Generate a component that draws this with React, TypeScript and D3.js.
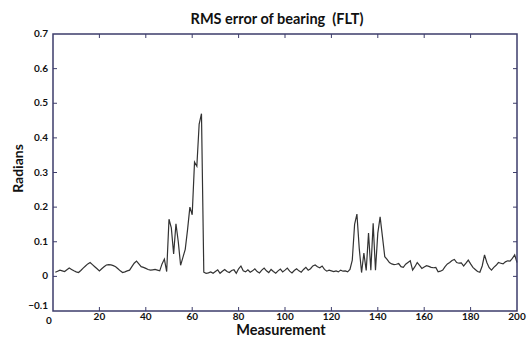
import * as d3 from 'd3';

// RMS bearing error (radians) for measurements 1..200
const rmsError = [
    0.012, 0.015, 0.018, 0.016, 0.014, 0.019, 0.024, 0.02, 0.016, 0.013,
    0.011, 0.017, 0.024, 0.03, 0.036, 0.04, 0.034, 0.028, 0.022, 0.016,
    0.022, 0.028, 0.033, 0.034, 0.033, 0.031, 0.028, 0.022, 0.016, 0.011,
    0.013, 0.016, 0.018, 0.028, 0.038, 0.044, 0.036, 0.028, 0.026, 0.023,
    0.02, 0.018, 0.019, 0.02, 0.018, 0.016, 0.036, 0.05, 0.014, 0.165,
    0.14, 0.065, 0.152, 0.1, 0.032, 0.055, 0.078, 0.135, 0.2, 0.178,
    0.33, 0.318, 0.44, 0.47, 0.012, 0.009, 0.01, 0.013, 0.009, 0.014,
    0.019, 0.009, 0.015, 0.02, 0.014, 0.011, 0.017, 0.019, 0.009, 0.022,
    0.03, 0.016, 0.013, 0.019, 0.012, 0.016, 0.022, 0.014, 0.01, 0.018,
    0.024, 0.016, 0.011, 0.02, 0.014, 0.009, 0.016, 0.021, 0.013, 0.018,
    0.024, 0.015, 0.01, 0.017, 0.022, 0.016, 0.012, 0.02, 0.026, 0.018,
    0.022, 0.03, 0.033, 0.028, 0.025, 0.03, 0.02, 0.015, 0.018, 0.016,
    0.014, 0.016, 0.013, 0.018, 0.015, 0.016, 0.013, 0.02, 0.047, 0.15,
    0.18, 0.081, 0.011, 0.067, 0.017, 0.125, 0.018, 0.153, 0.018, 0.125,
    0.172, 0.115, 0.057, 0.049, 0.04, 0.036, 0.034, 0.035, 0.037, 0.028,
    0.026, 0.035, 0.04, 0.045, 0.018, 0.028, 0.04, 0.032, 0.023, 0.027,
    0.031, 0.029, 0.026, 0.025, 0.026, 0.013, 0.015, 0.018, 0.028, 0.036,
    0.04, 0.046, 0.049, 0.04, 0.038, 0.039, 0.03, 0.038, 0.047, 0.036,
    0.026, 0.02, 0.014, 0.012, 0.03, 0.062, 0.04, 0.025, 0.018, 0.026,
    0.032, 0.04, 0.038, 0.036, 0.042, 0.045, 0.044, 0.052, 0.062, 0.04
];

const xTicks = [0, 20, 40, 60, 80, 100, 120, 140, 160, 180, 200];
const yTicks = [-0.1, 0, 0.1, 0.2, 0.3, 0.4, 0.5, 0.6, 0.7];

const title = 'RMS error of bearing  (FLT)';
const xLabel = 'Measurement';
const yLabel = 'Radians';

export default function App() {
    const width = 529;
    const height = 337;
    const margin = { top: 34, right: 12, bottom: 26, left: 53 };
    const innerWidth = width - margin.left - margin.right;
    const innerHeight = height - margin.top - margin.bottom;

    const x = d3.scaleLinear().domain([0, 200]).range([0, innerWidth]);
    const y = d3.scaleLinear().domain([-0.1, 0.7]).range([innerHeight, 0]);

    const line = d3.line<number>()
        .x((_, i) => x(i + 1))
        .y(d => y(d));

    const frame = '#3d3d6b';
    const font = 'Lato, "Open Sans", sans-serif';
    const tickLen = 4;

    return (
        <svg width={width} height={height}
            style={{ position: 'absolute', left: 0, top: 0, background: '#fff' }}
            fontFamily={font}>
            <text x={277} y={24} textAnchor="middle" fontSize={14.5} fontWeight={700} fill="#111"
                style={{ whiteSpace: 'pre' }}>
                {title}
            </text>
            <g transform={`translate(${margin.left},${margin.top})`}>
                <path d={line(rmsError) || ''} fill="none" stroke="#333" strokeWidth={1.2} />

                {/* ticks, mirrored on all four sides */}
                {xTicks.slice(1, -1).map(t => (
                    <g key={'xt' + t} stroke={frame} strokeWidth={1}>
                        <line x1={x(t)} x2={x(t)} y1={innerHeight} y2={innerHeight - tickLen} />
                        <line x1={x(t)} x2={x(t)} y1={0} y2={tickLen} />
                    </g>
                ))}
                {yTicks.slice(1, -1).map(t => (
                    <g key={'yt' + t} stroke={frame} strokeWidth={1}>
                        <line x1={0} x2={tickLen} y1={y(t)} y2={y(t)} />
                        <line x1={innerWidth} x2={innerWidth - tickLen} y1={y(t)} y2={y(t)} />
                    </g>
                ))}
                <rect x={0} y={0} width={innerWidth} height={innerHeight}
                    fill="none" stroke={frame} strokeWidth={1.5} />

                {xTicks.map(t => (
                    <text key={'xl' + t}
                        x={t === 0 ? x(t) - 4 : x(t)}
                        y={innerHeight + (t === 0 ? 13 : 9)}
                        textAnchor="middle" fontSize={10} fontWeight={700} fill="#111">
                        {t}
                    </text>
                ))}
                {yTicks.map(t => (
                    <text key={'yl' + t} x={-5}
                        y={t === -0.1 ? y(t) - 2 : y(t) + 3}
                        textAnchor="end" fontSize={10} fontWeight={700} fill="#111">
                        {d3.format('')(+t.toFixed(1))}
                    </text>
                ))}

                <text x={innerWidth / 2 - 4} y={innerHeight + 24}
                    textAnchor="middle" fontSize={14.5} fontWeight={700} fill="#111">
                    {xLabel}
                </text>
                <text transform={`translate(${-30},${innerHeight / 2 - 4}) rotate(-90)`}
                    textAnchor="middle" fontSize={14} fontWeight={700} fill="#111">
                    {yLabel}
                </text>
            </g>
        </svg>
    );
}
